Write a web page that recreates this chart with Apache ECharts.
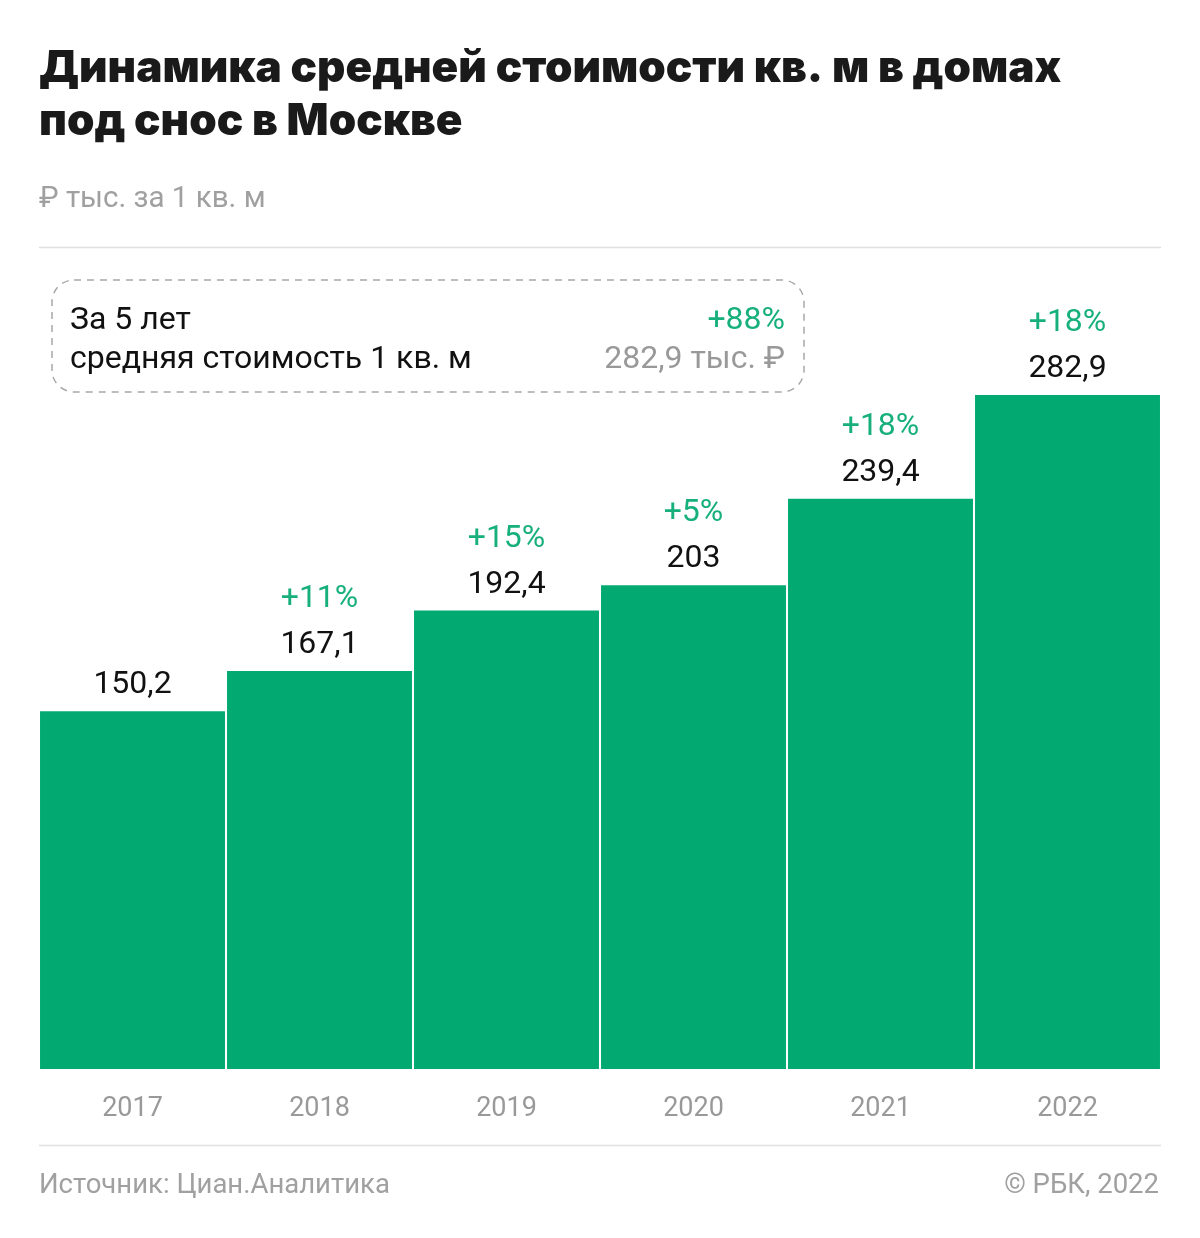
<!DOCTYPE html>
<html><head><meta charset="utf-8">
<script src="https://cdn.jsdelivr.net/npm/echarts@6/dist/echarts.min.js"></script>
<style>html,body{margin:0;padding:0;background:#fff}#c{width:1200px;height:1238px}</style>
</head><body><div id="c"></div>
<script>
const years = ['2017','2018','2019','2020','2021','2022'];
const values = [150.2, 167.1, 192.4, 203, 239.4, 282.9];
const changes = ['', '+11%', '+15%', '+5%', '+18%', '+18%'];
const totalChange = '+88%';
const totalValue = '282,9 тыс. ₽';

const TFONT = 'Inter, Roboto, sans-serif';
const FONT = 'Roboto, "Noto Sans", sans-serif';
const GREEN = '#02aa72';
const GREEN_T = '#17b07c';
const chart = echarts.init(document.getElementById('c'), null, {renderer:'canvas'});
const fmt = v => String(v).replace('.', ',');
chart.setOption({
  backgroundColor: '#fff',
  animation: false,
  textStyle: {fontFamily: FONT},
  grid: {left: 39, right: 39, top: 395, bottom: 169, containLabel: false},
  xAxis: {
    type: 'category', data: years,
    axisLine: {show: false}, axisTick: {show: false},
    axisLabel: {color: '#999', fontSize: 27, margin: 27, fontFamily: FONT}
  },
  yAxis: {type: 'value', min: 0, max: 282.9, show: false, splitLine: {show: false}},
  series: [{
    type: 'bar',
    data: values,
    barCategoryGap: '1.1%',
    itemStyle: {color: GREEN},
    label: {
      show: true, position: 'top', distance: 3,
      formatter: p => (changes[p.dataIndex] ? '{p|' + changes[p.dataIndex] + '}\n' : '') + '{v|' + fmt(p.value) + '}',
      rich: {
        p: {color: GREEN_T, fontSize: 32, lineHeight: 46, fontFamily: FONT},
        v: {color: '#111', fontSize: 32, lineHeight: 46, fontFamily: FONT}
      }
    }
  }],
  graphic: [
    {type: 'text', left: 39, top: 42, style: {text: 'Динамика средней стоимости кв. м в домах\nпод снос в Москве', font: '900 44px ' + TFONT, fill: '#1a1a1a', lineHeight: 53}},
    {type: 'text', left: 39, top: 185, style: {text: '₽ тыс. за 1 кв. м', font: '29.5px ' + FONT, fill: '#a0a0a0'}},
    {type: 'line', shape: {x1: 39, y1: 247.5, x2: 1161, y2: 247.5}, style: {stroke: '#e0e0e0', lineWidth: 1.5}},
    {type: 'rect', shape: {x: 52, y: 280, width: 752, height: 112, r: 22}, style: {fill: 'none', stroke: '#a8a8a8', lineWidth: 1.5, lineDash: [7, 6]}},
    {type: 'text', left: 70, top: 305, style: {text: 'За 5 лет', font: '32px ' + FONT, fill: '#111'}},
    {type: 'text', left: 70, top: 344, style: {text: 'средняя стоимость 1 кв. м', font: '32px ' + FONT, fill: '#111'}},
    {type: 'text', right: 1200-785, top: 305, style: {text: totalChange, font: '32px ' + FONT, fill: GREEN_T, textAlign: 'right'}},
    {type: 'text', right: 1200-785, top: 344, style: {text: totalValue, font: '32px ' + FONT, fill: '#999', textAlign: 'right'}},
    {type: 'line', shape: {x1: 39, y1: 1145.5, x2: 1161, y2: 1145.5}, style: {stroke: '#e0e0e0', lineWidth: 1.5}},
    {type: 'text', left: 39, top: 1172, style: {text: 'Источник: Циан.Аналитика', font: '27.5px ' + FONT, fill: '#a0a0a0'}},
    {type: 'text', right: 41, top: 1172, style: {text: '© РБК, 2022', font: '27.5px ' + FONT, fill: '#a0a0a0', textAlign: 'right'}}
  ]
});
</script></body></html>
